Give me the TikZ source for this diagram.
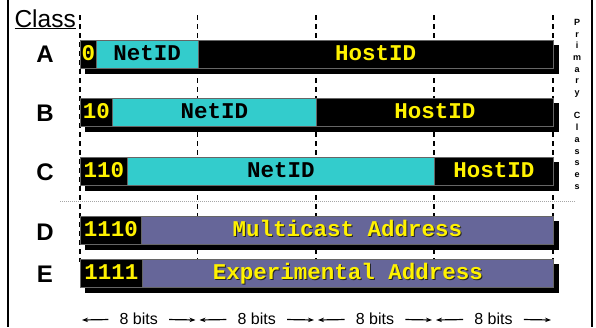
\documentclass[tikz,border=0pt]{standalone}
\usepackage{fontspec}
\setmainfont{Liberation Sans}
\setmonofont{Liberation Mono}
\usetikzlibrary{arrows.meta}

\definecolor{netcyan}{RGB}{51,204,204}
\definecolor{addrblue}{RGB}{102,102,153}
\newcommand{\shadowtxt}[1]{\rlap{\kern1.2pt\raisebox{-1.2pt}{\textcolor{black!85}{#1}}}#1}

\begin{document}
\begin{tikzpicture}[
  x=1pt, y=-1pt,
  >=Stealth,
  fld/.style={draw=black!60, line width=0.6pt, inner sep=0pt, minimum height=28pt,
    anchor=north west, text height=12pt, text depth=0pt,
    font=\fontsize{22.5}{24}\selectfont\ttfamily\bfseries},
  bitsfld/.style={fld, fill=black, text=yellow},
  netfld/.style={fld, fill=netcyan, text=black},
  hostfld/.style={fld, fill=black, text=yellow},
  addrfld/.style={fld, fill=addrblue, text=yellow},
  classlbl/.style={font=\fontsize{24}{24}\selectfont\bfseries},
  bitslbl/.style={inner xsep=11pt, inner ysep=0pt, font=\fontsize{16}{16}\selectfont},
  sep/.style={dash pattern=on 5pt off 4pt, line width=1.3pt}
]
\useasboundingbox (0,0) rectangle (596,327);

% --- Frame ---
\draw[line width=2.5pt] (8,0) -- (8,327);
\draw[line width=2.5pt] (592,0) -- (592,327);

% --- Byte boundaries ---
\foreach \x in {80,197.5,316,434,553}
  \draw[sep] (\x,15) -- (\x,262);

% primary / other classes
\draw[black!35, densely dotted, line width=1pt] (60,201) -- (576,201);

% --- Shadows ---
\foreach \top in {40,98,157,216,259}
  \fill (85,\top+5) rectangle (558.5,\top+34);

% --- Class labels ---
\node[anchor=base west, font=\fontsize{24.5}{25}\selectfont] (cls) at (11,27) {\underline{Class}};
\node[classlbl] (lA) at (45,54) {A};
\node[classlbl] (lB) at (45,113) {B};
\node[classlbl] (lC) at (45,172) {C};
\node[classlbl] (lD) at (45,232) {D};
\node[classlbl] (lE) at (45,274) {E};

% --- Class A ---
\node[bitsfld, minimum width=16pt] (a0) at (80,40) {0};
\node[netfld, minimum width=101.5pt] (aNet) at (96,40) {NetID};
\node[hostfld, minimum width=355.5pt] (aHost) at (197.5,40) {HostID};

% --- Class B ---
\node[bitsfld, minimum width=32pt] (b0) at (80,98) {10};
\node[netfld, minimum width=204pt] (bNet) at (112,98) {NetID};
\node[hostfld, minimum width=237pt] (bHost) at (316,98) {HostID};

% --- Class C ---
\node[bitsfld, minimum width=47pt] (c0) at (80,157) {110};
\node[netfld, minimum width=307pt] (cNet) at (127,157) {NetID};
\node[hostfld, minimum width=119pt] (cHost) at (434,157) {HostID};

% --- Class D ---
\node[bitsfld, minimum width=61pt] (d0) at (80,216) {1110};
\node[addrfld, minimum width=412pt] (dAddr) at (141,216) {\shadowtxt{Multicast Address}};

% --- Class E ---
\node[bitsfld, minimum width=62pt] (e0) at (80,259) {1111};
\node[addrfld, minimum width=411pt] (eAddr) at (142,259) {\shadowtxt{Experimental Address}};

% --- Side note ---
\node[anchor=north, align=center, inner sep=0pt,
  font=\fontsize{9}{11.7}\selectfont\bfseries] (prim) at (577,19)
  {P\\r\\i\\m\\a\\r\\y\\[11.7pt]C\\l\\a\\s\\s\\e\\s};

% --- 8 bits ---
\foreach \i/\xa/\xb in {1/80/197.5, 2/197.5/316, 3/316/434, 4/434/553} {
  \coordinate (l\i) at (\xa+2,320);
  \coordinate (r\i) at (\xb-2,320);
  \node[bitslbl] (w\i) at ({(\xa+\xb)/2},319) {8 bits};
  \draw[-{Stealth[length=6pt,width=4.5pt]}, line width=1.2pt] (w\i) -- (l\i);
  \draw[-{Stealth[length=6pt,width=4.5pt]}, line width=1.2pt] (w\i) -- (r\i);
}

\end{tikzpicture}
\end{document}
